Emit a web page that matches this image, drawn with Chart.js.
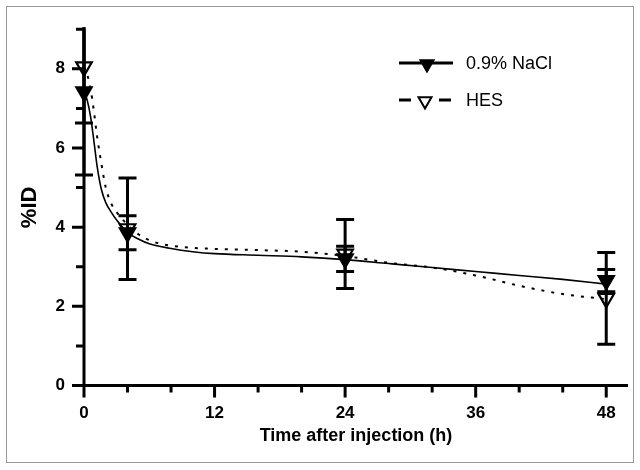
<!DOCTYPE html>
<html>
<head>
<meta charset="utf-8">
<script src="https://cdn.jsdelivr.net/npm/chart.js@4/dist/chart.umd.min.js"></script>
<style>
  html, body { margin: 0; padding: 0; background: #fff; }
  #wrap { width: 640px; height: 470px; position: relative; }
</style>
</head>
<body>
<div id="wrap"><canvas id="pkChart" width="640" height="470"></canvas></div>
<script>
// measured points (mean and error bar half-length)
const sampleTimes = [0, 4, 24, 48];
const naclMean = [7.42, 3.86, 3.20, 2.65];
const naclErr  = [2.10, 0.43, 0.32, 0.28];
const hesMean  = [8.05, 3.96, 3.32, 2.20];
const hesErr   = [1.42, 1.28, 0.87, 1.16];

// fitted curves
const naclCurveT = [0, 0.3, 0.6, 0.9, 1.2, 1.6, 2.0, 2.5, 3, 4, 5, 6, 8, 10, 12, 16, 20, 24, 28, 32, 36, 40, 44, 48];
const naclCurveY = [7.42, 7.2, 6.8, 6.2, 5.55, 4.95, 4.62, 4.38, 4.18, 3.87, 3.7, 3.58, 3.46, 3.38, 3.33, 3.29, 3.25, 3.18, 3.08, 2.98, 2.88, 2.78, 2.68, 2.56];
const hesCurveT  = [0, 0.3, 0.6, 0.9, 1.2, 1.6, 2.0, 2.5, 3, 4, 5, 6.5, 9, 12, 16, 20, 24, 28, 32, 36, 40, 44, 48];
const hesCurveY  = [8.05, 7.85, 7.5, 6.95, 6.3, 5.6, 5.0, 4.6, 4.38, 4.06, 3.82, 3.62, 3.5, 3.45, 3.42, 3.38, 3.27, 3.1, 2.98, 2.78, 2.52, 2.31, 2.18];

// axis ticks
const xMajorTicks = [0, 12, 24, 36, 48];
const xMinorTicks = [4, 8, 16, 20, 28, 32, 40, 44];
const yMajorTicks = [0, 2, 4, 6, 8];
const yMinorTicks = [1, 3, 5, 7, 9];

const seriesNames = ['0.9% NaCl', 'HES'];

function pairs(xs, ys) {
    return xs.map((x, i) => ({ x: x, y: ys[i] }));
}

function triangleDown(ctx, x, y, r, filled) {
    ctx.beginPath();
    ctx.moveTo(x, y + r);
    ctx.lineTo(x - r * 0.866, y - r * 0.5);
    ctx.lineTo(x + r * 0.866, y - r * 0.5);
    ctx.closePath();
    ctx.fillStyle = filled ? '#000' : '#fff';
    ctx.fill();
    ctx.lineWidth = 2;
    ctx.strokeStyle = '#000';
    ctx.stroke();
}

// frame, axes with major/minor ticks
const axesPlugin = {
    id: 'axesPlugin',
    beforeDraw(chart) {
        const ctx = chart.ctx;
        ctx.save();
        ctx.fillStyle = '#fff';
        ctx.fillRect(0, 0, chart.width, chart.height);
        ctx.strokeStyle = '#9a9a9a';
        ctx.lineWidth = 1;
        ctx.strokeRect(6.5, 6.5, 627, 456);
        ctx.restore();
    },
    beforeDatasetsDraw(chart) {
        const ctx = chart.ctx;
        const xs = chart.scales.x, ys = chart.scales.y;
        const a = chart.chartArea;
        const x0 = xs.getPixelForValue(0), y0 = ys.getPixelForValue(0);
        ctx.save();
        ctx.strokeStyle = '#000';
        ctx.lineWidth = 3;
        ctx.lineCap = 'butt';
        ctx.beginPath();
        ctx.moveTo(x0, ys.getPixelForValue(9));
        ctx.lineTo(x0, y0);
        ctx.moveTo(x0 - 1.5, y0);
        ctx.lineTo(a.right, y0);
        xMajorTicks.forEach(v => { const p = xs.getPixelForValue(v); ctx.moveTo(p, y0); ctx.lineTo(p, y0 + 12); });
        xMinorTicks.forEach(v => { const p = xs.getPixelForValue(v); ctx.moveTo(p, y0); ctx.lineTo(p, y0 + 7); });
        yMajorTicks.forEach(v => { const p = ys.getPixelForValue(v); ctx.moveTo(x0, p); ctx.lineTo(x0 - 12, p); });
        yMinorTicks.forEach(v => { const p = ys.getPixelForValue(v); ctx.moveTo(x0, p); ctx.lineTo(x0 - 8, p); });
        ctx.stroke();
        ctx.restore();
    }
};

// vertical error bars with caps
const errorBarPlugin = {
    id: 'errorBarPlugin',
    beforeDatasetsDraw(chart) {
        const ctx = chart.ctx;
        const xs = chart.scales.x, ys = chart.scales.y;
        const a = chart.chartArea;
        ctx.save();
        ctx.beginPath();
        ctx.rect(a.left - 20, a.top - 2, a.right - a.left + 40, a.bottom - a.top + 4);
        ctx.clip();
        ctx.strokeStyle = '#000';
        ctx.lineWidth = 3;
        chart.data.datasets.forEach(ds => {
            if (!ds.errors) return;
            ds.data.forEach((pt, i) => {
                const px = xs.getPixelForValue(pt.x);
                const top = ys.getPixelForValue(pt.y + ds.errors[i]);
                const bot = ys.getPixelForValue(pt.y - ds.errors[i]);
                ctx.beginPath();
                ctx.moveTo(px, top); ctx.lineTo(px, bot);
                ctx.moveTo(px - 9, top); ctx.lineTo(px + 9, top);
                ctx.moveTo(px - 9, bot); ctx.lineTo(px + 9, bot);
                ctx.stroke();
            });
        });
        ctx.restore();
    }
};

// legend in the upper right, line + marker
const legendPlugin = {
    id: 'legendPlugin',
    afterDraw(chart) {
        const ctx = chart.ctx;
        ctx.save();
        ctx.strokeStyle = '#000';
        ctx.lineWidth = 3;
        // NaCl
        ctx.beginPath();
        ctx.moveTo(399, 63); ctx.lineTo(453, 63);
        ctx.stroke();
        triangleDown(ctx, 427, 64, 7.5, true);
        // HES
        ctx.lineWidth = 3;
        ctx.beginPath();
        ctx.moveTo(399, 100); ctx.lineTo(411, 100);
        ctx.moveTo(439, 100); ctx.lineTo(451, 100);
        ctx.stroke();
        triangleDown(ctx, 425, 101, 7.5, false);
        ctx.fillStyle = '#000';
        ctx.font = '18px "Liberation Sans", Arial, sans-serif';
        ctx.textBaseline = 'middle';
        ctx.textAlign = 'left';
        ctx.fillText(seriesNames[0], 466, 64);
        ctx.fillText(seriesNames[1], 466, 101);
        ctx.restore();
    }
};

function createPkChart() {
    const ctx = document.getElementById('pkChart').getContext('2d');
    Chart.defaults.font.family = '"Liberation Sans", Arial, sans-serif';
    Chart.defaults.color = '#000';
    const pkChart = new Chart(ctx, {
        type: 'scatter',
        data: {
            datasets: [
                {
                    label: seriesNames[0],
                    data: pairs(sampleTimes, naclMean),
                    errors: naclErr,
                    pointStyle: 'triangle',
                    rotation: 180,
                    radius: 9,
                    backgroundColor: '#000',
                    borderColor: '#000',
                    borderWidth: 2,
                    clip: false
                },
                {
                    label: seriesNames[1],
                    data: pairs(sampleTimes, hesMean),
                    errors: hesErr,
                    pointStyle: 'triangle',
                    rotation: 180,
                    radius: 9,
                    backgroundColor: 'rgba(255,255,255,0)',
                    borderColor: '#000',
                    borderWidth: 2.2,
                    clip: false
                },
                {
                    label: 'NaCl fit',
                    data: pairs(naclCurveT, naclCurveY),
                    showLine: true,
                    pointRadius: 0,
                    borderColor: '#000',
                    borderWidth: 1.6,
                    cubicInterpolationMode: 'monotone'
                },
                {
                    label: 'HES fit',
                    data: pairs(hesCurveT, hesCurveY),
                    showLine: true,
                    pointRadius: 0,
                    borderColor: '#000',
                    borderWidth: 2,
                    borderDash: [3, 7],
                    cubicInterpolationMode: 'monotone'
                }
            ]
        },
        options: {
            responsive: false,
            animation: false,
            layout: { padding: { top: 23, right: 12, left: 0, bottom: 0 } },
            plugins: {
                legend: { display: false },
                tooltip: { enabled: false }
            },
            scales: {
                x: {
                    type: 'linear',
                    min: 0,
                    max: 50,
                    border: { display: false },
                    grid: { display: false, drawTicks: false },
                    afterBuildTicks: s => { s.ticks = xMajorTicks.map(v => ({ value: v })); },
                    ticks: {
                        autoSkip: false,
                        maxRotation: 0,
                        padding: 18,
                        font: { size: 17, weight: 'bold' },
                        callback: v => String(v)
                    },
                    title: {
                        display: true,
                        text: 'Time after injection (h)',
                        font: { size: 18, weight: 'bold' },
                        padding: { top: 0, bottom: 23 }
                    },
                    afterFit: s => { s.height = 84.5; }
                },
                y: {
                    min: 0,
                    max: 9,
                    border: { display: false },
                    grid: { display: false, drawTicks: false },
                    afterBuildTicks: s => { s.ticks = yMajorTicks.map(v => ({ value: v })); },
                    ticks: {
                        padding: 19,
                        font: { size: 17, weight: 'bold' },
                        callback: v => String(v)
                    },
                    title: {
                        display: true,
                        text: '%ID',
                        font: { size: 22, weight: 'bold' },
                        padding: { top: 17, bottom: 0 }
                    },
                    afterFit: s => { s.width = 84; }
                }
            }
        },
        plugins: [axesPlugin, errorBarPlugin, legendPlugin]
    });
}

window.onload = function() {
    createPkChart();
};
</script>
</body>
</html>
